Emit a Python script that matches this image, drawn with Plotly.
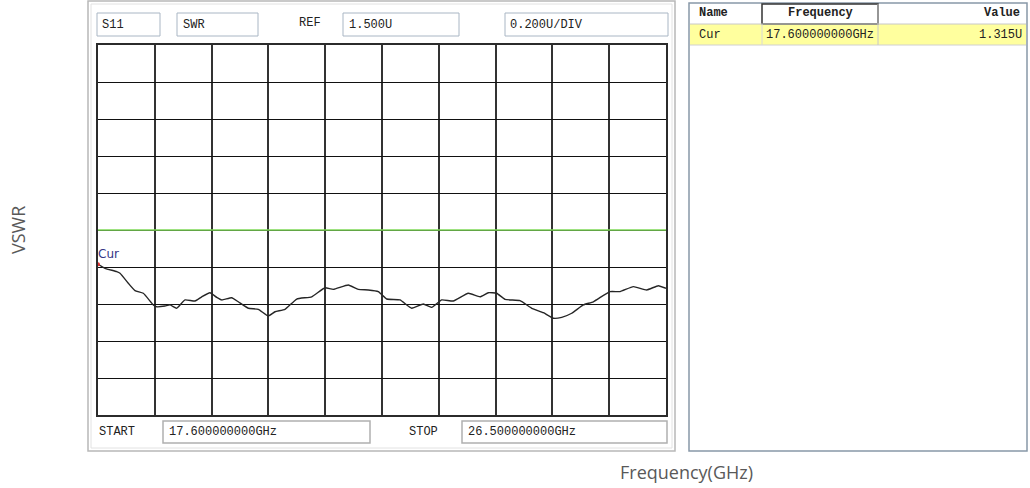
import plotly.graph_objects as go

# ---- data ----
freq_ghz = [17.60, 17.71, 17.893, 17.945, 18.075, 18.18, 18.31, 18.467, 18.52, 18.65,
            18.728, 18.833, 18.963, 19.12, 19.225, 19.355, 19.46, 19.538, 19.695, 19.798,
            19.955, 20.112, 20.269, 20.374, 20.53, 20.714, 20.949, 21.157, 21.287, 21.522,
            21.679, 21.836, 21.992, 22.124, 22.332, 22.516, 22.697, 22.829, 22.986, 23.167,
            23.402, 23.586, 23.716, 23.847, 23.978, 24.213, 24.396, 24.578, 24.735, 24.866,
            25.023, 25.205, 25.361, 25.623, 25.78, 25.988, 26.198, 26.38, 26.50]
vswr = [1.315, 1.293, 1.275, 1.266, 1.212, 1.172, 1.158, 1.095, 1.085, 1.089,
        1.095, 1.077, 1.122, 1.116, 1.139, 1.161, 1.136, 1.122, 1.134, 1.112,
        1.077, 1.071, 1.035, 1.058, 1.071, 1.127, 1.139, 1.188, 1.179, 1.203,
        1.179, 1.176, 1.167, 1.127, 1.122, 1.077, 1.100, 1.082, 1.122, 1.116,
        1.158, 1.139, 1.161, 1.158, 1.125, 1.118, 1.077, 1.053, 1.023, 1.028,
        1.050, 1.095, 1.112, 1.167, 1.167, 1.194, 1.176, 1.199, 1.185]

start_ghz = 17.6
stop_ghz = 26.5
ref_value = 1.5
per_div = 0.2
n_div = 10
marker_name = "Cur"
start_label = "17.600000000GHz"
stop_label = "26.500000000GHz"
marker_freq_label = "17.600000000GHz"
marker_value_label = "1.315U"
table_headers = ["Name", "Frequency", "Value"]

W, H = 1030, 488


def px(x):
    return x / W


def py(y):
    return 1 - y / H


fig = go.Figure()

fig.add_trace(go.Scatter(x=freq_ghz, y=vswr, mode="lines",
                         line=dict(color="#262626", width=1.4, shape="spline", smoothing=0.4),
                         hoverinfo="x+y", showlegend=False))
fig.add_trace(go.Scatter(x=[freq_ghz[0]], y=[vswr[0]], mode="markers",
                         marker=dict(color="#e03030", size=4), showlegend=False))

y_lo = ref_value - per_div * n_div / 2
y_hi = ref_value + per_div * n_div / 2

fig.update_xaxes(domain=[px(98), px(666)], range=[start_ghz, stop_ghz],
                 tick0=start_ghz, dtick=(stop_ghz - start_ghz) / n_div,
                 showgrid=True, gridcolor="#333333", gridwidth=1.8,
                 showticklabels=False, ticks="", zeroline=False,
                 showline=True, linecolor="#2b2b2b", linewidth=2, mirror=True,
                 title=None)
fig.update_yaxes(domain=[py(415), py(45)], range=[y_lo, y_hi],
                 tick0=y_lo, dtick=per_div,
                 showgrid=True, gridcolor="#111111", gridwidth=1.2,
                 showticklabels=False, ticks="", zeroline=False,
                 showline=True, linecolor="#2b2b2b", linewidth=2, mirror=True,
                 title=None)

shapes = []
# reference line (green)
shapes.append(dict(type="line", xref="x", yref="y", x0=start_ghz, x1=stop_ghz,
                   y0=ref_value, y1=ref_value, line=dict(color="#7ed957", width=1.5),
                   layer="above"))


def rect(x0, y0, x1, y1, line_color, fill="rgba(0,0,0,0)", width=1, layer="below"):
    shapes.append(dict(type="rect", xref="paper", yref="paper",
                       x0=px(x0), x1=px(x1), y0=py(y1), y1=py(y0),
                       line=dict(color=line_color, width=width), fillcolor=fill,
                       layer=layer))


# left panel frame
rect(88, 1, 675, 451, "#b8b8b8", width=1.5)
rect(91, 4, 672, 448, "#e2e2e2", width=1)
# header boxes
rect(97, 13, 160, 36, "#a9b6c4")
rect(177, 13, 258, 36, "#a9b6c4")
rect(343, 13, 459, 36, "#a9b6c4")
rect(505, 13, 668, 36, "#a9b6c4")
# footer boxes
rect(163, 421, 370, 443, "#b0b0b0", width=1.5)
rect(462, 421, 667, 443, "#b0b0b0", width=1.5)
# right table panel
rect(689, 3, 1027, 451, "#8898a8", width=1.5)
rect(690, 24, 1026, 45, "#a0a0a0", fill="#ffff9e", width=0)
shapes.append(dict(type="line", xref="paper", yref="paper", x0=px(690), x1=px(1026),
                   y0=py(24), y1=py(24), line=dict(color="#c8c8c8", width=1)))
shapes.append(dict(type="line", xref="paper", yref="paper", x0=px(690), x1=px(1026),
                   y0=py(45), y1=py(45), line=dict(color="#d0d0d0", width=1)))
rect(762, 4, 878, 24, "#333333", width=1.5)
shapes.append(dict(type="line", xref="paper", yref="paper", x0=px(878), x1=px(878),
                   y0=py(4), y1=py(45), line=dict(color="#c8c8c8", width=1)))
shapes.append(dict(type="line", xref="paper", yref="paper", x0=px(762), x1=px(762),
                   y0=py(24), y1=py(45), line=dict(color="#d8d8d8", width=1)))

fig.update_layout(shapes=shapes)

mono = "Liberation Mono"
ann = []


def text(x, y, s, size=12, color="#222222", family=mono, xanchor="left", bold=False):
    ann.append(dict(x=px(x), y=py(y), xref="paper", yref="paper",
                    text=("<b>%s</b>" % s) if bold else s,
                    showarrow=False, xanchor=xanchor, yanchor="middle",
                    font=dict(size=size, color=color, family=family)))


text(100, 25, "S11")
text(181, 25, "SWR")
text(297, 23, "REF")
text(347, 25, "1.500U")
text(508, 25, "0.200U/DIV")
text(97, 432, "START")
text(167, 432, start_label)
text(407, 432, "STOP")
text(466, 432, stop_label)
# table
text(697, 13, table_headers[0], bold=True)
text(820, 13, table_headers[1], bold=True, xanchor="center")
text(1022, 13, table_headers[2], bold=True, xanchor="right")
text(697, 35, marker_name)
text(876, 35, marker_freq_label, xanchor="right")
text(1024, 35, marker_value_label, xanchor="right")
# marker label on trace
text(96, 254, marker_name, size=12, color="#353585", family="DejaVu Sans")
# axis titles
ann.append(dict(x=px(18), y=py(230), xref="paper", yref="paper", text="VSWR",
                showarrow=False, textangle=-90, xanchor="center", yanchor="middle",
                font=dict(size=18, color="#595959", family="Open Sans")))
ann.append(dict(x=px(686), y=py(472), xref="paper", yref="paper", text="Frequency(GHz)",
                showarrow=False, xanchor="center", yanchor="middle",
                font=dict(size=18, color="#595959", family="Open Sans")))

fig.update_layout(annotations=ann, width=W, height=H,
                  margin=dict(l=0, r=0, t=0, b=0),
                  paper_bgcolor="white", plot_bgcolor="white",
                  showlegend=False)

fig.write_html("out.html", config={"displayModeBar": False},
               post_script="document.body.style.margin='0px';document.body.style.overflow='hidden';")
